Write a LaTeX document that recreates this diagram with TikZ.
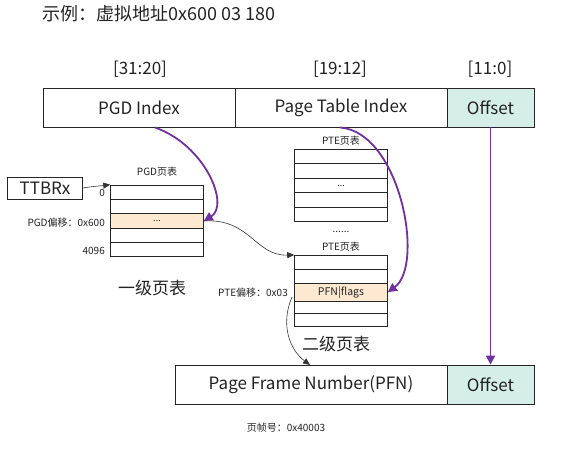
\documentclass[tikz,border=0pt]{standalone}
\usepackage{fontspec}
\setmainfont{Noto Sans CJK SC}
\usetikzlibrary{arrows.meta}
\definecolor{purp}{HTML}{7030A0}
\definecolor{offfill}{HTML}{D5EFE8}
\definecolor{hlfill}{HTML}{FDE9D2}
\definecolor{txt}{HTML}{222222}
\begin{document}
\begin{tikzpicture}[x=1pt,y=-1pt,
  every node/.style={text=txt},
  cell/.style={draw=black!85, line width=0.8pt, inner sep=0pt, font=\fontsize{17}{19}\selectfont},
  row/.style={draw=black!85, line width=0.6pt, inner sep=0pt, minimum width=93pt, font=\fontsize{9}{10}\selectfont},
  small/.style={inner sep=0pt, font=\fontsize{10}{11}\selectfont},
  big/.style={inner sep=0pt, font=\fontsize{17}{19}\selectfont},
  parrow/.style={draw=purp, line width=1.8pt, -{Triangle[length=9pt,width=9pt]}},
  barrow/.style={draw=black!80, line width=0.6pt, -{Triangle[length=7pt,width=6pt]}}
]
\useasboundingbox (0,0) rectangle (578,449);
\node[inner sep=0pt, anchor=west, font=\fontsize{18}{20}\selectfont] (title) at (42,14) {示例：虚拟地址0x600 03 180};
% top bar
\node[cell, minimum width=192pt, minimum height=39pt] (pgdi) at (139,107.5) {PGD Index};
\node[cell, minimum width=212pt, minimum height=39pt] (pti) at (341,107.5) {Page Table Index};
\node[cell, fill=offfill, minimum width=87pt, minimum height=39pt] (off1) at (490.5,107.5) {Offset};
\node[big] (b1) at (140,69) {[31:20]};
\node[big] (b2) at (340,69) {[19:12]};
\node[big] (b3) at (490,69) {[11:0]};
% TTBRx
\node[cell, minimum width=75pt, minimum height=22pt] (ttbr) at (45,188) {TTBRx};
% PGD table
\node[small] (pgdt) at (157,172) {PGD页表};
\node[row, minimum height=14pt] (g1) at (157,192) {};
\node[row, minimum height=14.5pt] (g2) at (157,206.5) {};
\node[row, fill=hlfill, minimum height=14.5pt] (g3) at (157,221) {...};
\node[row, minimum height=14pt] (g4) at (157,235.2) {};
\node[row, minimum height=14pt] (g5) at (157,249.2) {};
\node[small, anchor=east] (l0) at (105,193) {0};
\node[small, anchor=east] (lo) at (105,223) {PGD偏移：0x600};
\node[small, anchor=east] (l4) at (105,251) {4096};
\node[big] (lvl1) at (152,288) {一级页表};
% PTE table 1
\node[small] (ptet1) at (341,140.5) {PTE页表};
\node[row, minimum height=14.5pt] (p1) at (341,156.5) {};
\node[row, minimum height=14.5pt] (p2) at (341,171) {};
\node[row, minimum height=14.5pt] (p3) at (341,185.5) {...};
\node[row, minimum height=14.5pt] (p4) at (341,200) {};
\node[row, minimum height=14.5pt] (p5) at (341,214.5) {};
\node[small] (dots) at (341,232) {......};
% PTE table 2
\node[small] (ptet2) at (341,247) {PTE页表};
\node[row, minimum height=14.5pt] (q1) at (341,262.5) {};
\node[row, minimum height=13.5pt] (q2) at (341,276.5) {};
\node[row, fill=hlfill, minimum height=18pt, font=\fontsize{10.5}{11}\selectfont] (q3) at (341,292.2) {PFN|flags};
\node[row, minimum height=12pt] (q4) at (341,307.2) {};
\node[row, minimum height=13.5pt] (q5) at (341,320) {};
\node[small, anchor=east] (lq) at (288,293) {PTE偏移：0x03};
\node[big] (lvl2) at (336,344) {二级页表};
% bottom bar
\node[cell, minimum width=272pt, minimum height=39pt] (pfn) at (311,384.5) {Page Frame Number(PFN)};
\node[cell, fill=offfill, minimum width=87pt, minimum height=39pt] (off2) at (490.5,384.5) {Offset};
\node[small] (pfnv) at (286,428) {页帧号：0x40003};
% arrows
\coordinate (s1) at (155,127.5);
\coordinate (s2) at (340,127.5);
\draw[parrow] (s1) .. controls (205,145) and (230,205) .. (g3.east);
\draw[parrow] (s2) .. controls (400,132) and (425,265) .. (q3.east);
\draw[parrow] (off1.south) -- (off2.north);
\draw[barrow] (ttbr.east) .. controls (95,186) and (100,186) .. (g1.north west);
\draw[barrow] (g3.east) .. controls (250,218) and (255,256) .. (q1.north west);
\coordinate (s3) at (292,297);
\coordinate (e3) at (310,365);
\draw[barrow] (s3) .. controls (280,325) and (290,350) .. (e3);
\end{tikzpicture}
\end{document}
